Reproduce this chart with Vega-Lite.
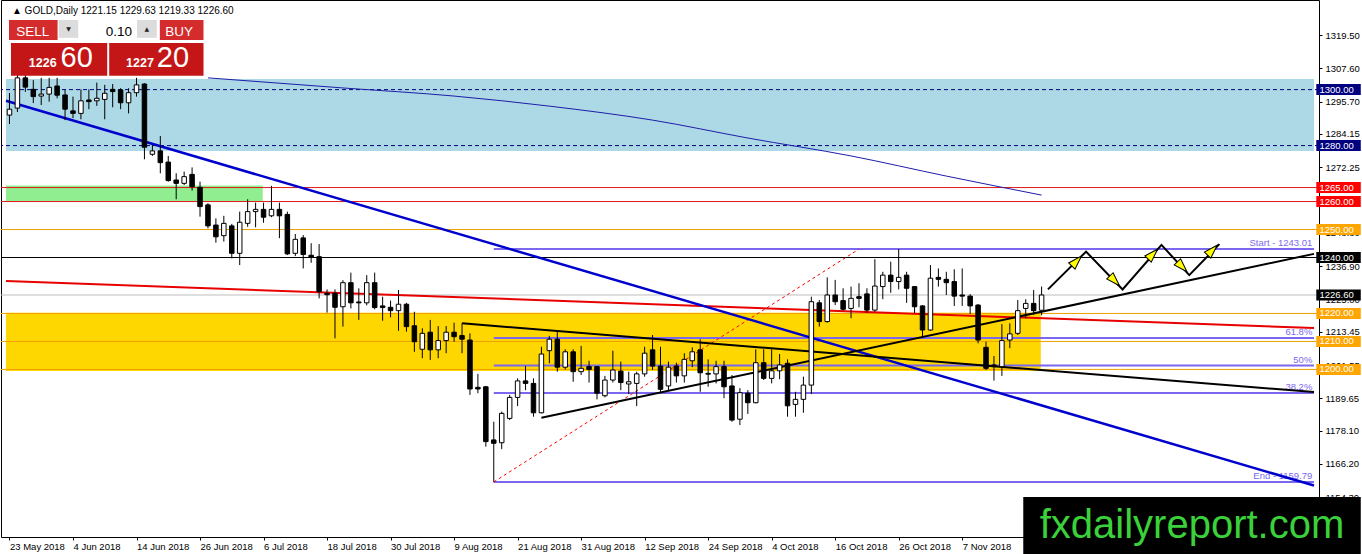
{
"$schema": "https://vega.github.io/schema/vega-lite/v6.json",
"width": 1318, "height": 537, "padding": 0, "autosize": {"type": "pad"},
"background": "#ffffff",
"config": {"view": {"stroke": "#000000", "strokeWidth": 1}, "axis": {"grid": false, "labelOverlap": false, "labelSeparation": 0, "labelBound": false}, "axisY": {"labelOverlap": false}, "axisRight": {"labelOverlap": false}, "axisQuantitative": {"labelOverlap": false}},
"datasets": {
"candles": [
{"i":0,"o":1290.9,"h":1298.8,"l":1287.7,"c":1293.0},
{"i":1,"o":1293.4,"h":1307.0,"l":1292.0,"c":1304.2},
{"i":2,"o":1304.2,"h":1306.3,"l":1299.2,"c":1300.9},
{"i":3,"o":1300.1,"h":1303.4,"l":1295.2,"c":1297.5},
{"i":4,"o":1297.7,"h":1304.2,"l":1294.5,"c":1298.4},
{"i":5,"o":1298.4,"h":1304.2,"l":1295.7,"c":1300.8},
{"i":6,"o":1301.3,"h":1304.2,"l":1296.9,"c":1298.0},
{"i":7,"o":1298.1,"h":1299.9,"l":1289.1,"c":1293.0},
{"i":8,"o":1292.4,"h":1297.5,"l":1289.8,"c":1291.5},
{"i":9,"o":1291.5,"h":1300.1,"l":1289.4,"c":1296.0},
{"i":10,"o":1296.3,"h":1300.1,"l":1293.0,"c":1295.7},
{"i":11,"o":1296.0,"h":1302.5,"l":1294.2,"c":1296.9},
{"i":12,"o":1296.5,"h":1301.7,"l":1289.4,"c":1298.7},
{"i":13,"o":1300.1,"h":1302.0,"l":1293.7,"c":1299.3},
{"i":14,"o":1299.9,"h":1300.5,"l":1293.0,"c":1295.3},
{"i":15,"o":1295.3,"h":1300.5,"l":1291.5,"c":1298.9},
{"i":16,"o":1298.9,"h":1304.2,"l":1297.5,"c":1301.7},
{"i":17,"o":1302.0,"h":1302.3,"l":1275.1,"c":1279.4},
{"i":18,"o":1276.9,"h":1280.2,"l":1276.3,"c":1278.1},
{"i":19,"o":1278.1,"h":1283.4,"l":1270.1,"c":1273.9},
{"i":20,"o":1274.1,"h":1276.3,"l":1267.1,"c":1267.5},
{"i":21,"o":1267.7,"h":1270.1,"l":1260.8,"c":1266.5},
{"i":22,"o":1266.5,"h":1270.7,"l":1265.9,"c":1268.9},
{"i":23,"o":1269.7,"h":1272.2,"l":1263.9,"c":1265.3},
{"i":24,"o":1265.1,"h":1267.1,"l":1254.6,"c":1258.2},
{"i":25,"o":1258.8,"h":1259.4,"l":1250.4,"c":1251.3},
{"i":26,"o":1251.6,"h":1254.0,"l":1245.3,"c":1247.4},
{"i":27,"o":1247.8,"h":1254.9,"l":1245.7,"c":1252.2},
{"i":28,"o":1251.3,"h":1252.0,"l":1239.7,"c":1241.5},
{"i":29,"o":1241.5,"h":1256.4,"l":1237.3,"c":1252.6},
{"i":30,"o":1252.2,"h":1260.8,"l":1251.0,"c":1256.4},
{"i":31,"o":1256.4,"h":1259.6,"l":1250.8,"c":1257.2},
{"i":32,"o":1257.2,"h":1259.6,"l":1252.4,"c":1254.4},
{"i":33,"o":1254.9,"h":1265.6,"l":1254.4,"c":1257.2},
{"i":34,"o":1257.2,"h":1259.6,"l":1246.9,"c":1254.9},
{"i":35,"o":1255.4,"h":1256.4,"l":1240.9,"c":1241.3},
{"i":36,"o":1241.5,"h":1248.4,"l":1240.5,"c":1246.5},
{"i":37,"o":1247.0,"h":1248.0,"l":1236.1,"c":1241.1},
{"i":38,"o":1240.8,"h":1245.1,"l":1238.1,"c":1240.1},
{"i":39,"o":1240.3,"h":1244.8,"l":1225.4,"c":1227.8},
{"i":40,"o":1227.2,"h":1228.6,"l":1220.3,"c":1226.7},
{"i":41,"o":1227.2,"h":1228.6,"l":1211.1,"c":1222.2},
{"i":42,"o":1222.4,"h":1231.9,"l":1215.3,"c":1231.0},
{"i":43,"o":1231.0,"h":1234.6,"l":1221.8,"c":1223.8},
{"i":44,"o":1224.1,"h":1229.0,"l":1217.7,"c":1223.8},
{"i":45,"o":1223.8,"h":1233.7,"l":1222.9,"c":1231.0},
{"i":46,"o":1231.0,"h":1234.6,"l":1221.5,"c":1222.1},
{"i":47,"o":1222.7,"h":1226.0,"l":1217.4,"c":1222.1},
{"i":48,"o":1222.2,"h":1224.6,"l":1218.6,"c":1221.0},
{"i":49,"o":1221.0,"h":1228.4,"l":1213.8,"c":1223.3},
{"i":50,"o":1223.3,"h":1223.8,"l":1213.5,"c":1215.3},
{"i":51,"o":1215.6,"h":1220.6,"l":1206.3,"c":1209.9},
{"i":52,"o":1207.2,"h":1214.7,"l":1204.0,"c":1212.9},
{"i":53,"o":1213.3,"h":1217.7,"l":1203.4,"c":1207.0},
{"i":54,"o":1207.0,"h":1215.5,"l":1204.0,"c":1210.3},
{"i":55,"o":1210.3,"h":1215.5,"l":1205.8,"c":1213.3},
{"i":56,"o":1213.3,"h":1216.7,"l":1209.9,"c":1211.7},
{"i":57,"o":1212.1,"h":1216.5,"l":1205.8,"c":1210.8},
{"i":58,"o":1210.5,"h":1212.9,"l":1190.9,"c":1193.0},
{"i":59,"o":1193.6,"h":1198.4,"l":1191.5,"c":1193.0},
{"i":60,"o":1193.8,"h":1194.1,"l":1172.4,"c":1174.2},
{"i":61,"o":1174.8,"h":1181.3,"l":1159.79,"c":1173.6},
{"i":62,"o":1173.8,"h":1184.9,"l":1171.5,"c":1184.3},
{"i":63,"o":1182.5,"h":1190.9,"l":1181.9,"c":1190.0},
{"i":64,"o":1190.0,"h":1196.8,"l":1186.9,"c":1195.9},
{"i":65,"o":1195.9,"h":1201.2,"l":1192.6,"c":1195.0},
{"i":66,"o":1195.0,"h":1196.8,"l":1183.1,"c":1184.5},
{"i":67,"o":1184.5,"h":1208.1,"l":1184.3,"c":1205.5},
{"i":68,"o":1206.7,"h":1212.0,"l":1202.2,"c":1210.8},
{"i":69,"o":1210.8,"h":1213.5,"l":1199.2,"c":1200.8},
{"i":70,"o":1200.8,"h":1207.2,"l":1200.0,"c":1206.3},
{"i":71,"o":1206.3,"h":1207.2,"l":1195.6,"c":1199.2},
{"i":72,"o":1199.2,"h":1208.4,"l":1198.0,"c":1200.4},
{"i":73,"o":1201.0,"h":1203.1,"l":1195.3,"c":1200.0},
{"i":74,"o":1201.0,"h":1201.2,"l":1189.3,"c":1191.5},
{"i":75,"o":1190.6,"h":1197.7,"l":1190.0,"c":1196.2},
{"i":76,"o":1196.2,"h":1206.7,"l":1195.3,"c":1199.8},
{"i":77,"o":1199.4,"h":1202.8,"l":1192.6,"c":1195.3},
{"i":78,"o":1194.8,"h":1199.2,"l":1191.2,"c":1195.6},
{"i":79,"o":1195.0,"h":1199.2,"l":1186.9,"c":1198.4},
{"i":80,"o":1198.4,"h":1208.1,"l":1197.4,"c":1205.8},
{"i":81,"o":1207.0,"h":1212.3,"l":1199.8,"c":1201.2},
{"i":82,"o":1201.2,"h":1208.1,"l":1192.0,"c":1192.9},
{"i":83,"o":1194.1,"h":1202.8,"l":1192.6,"c":1200.8},
{"i":84,"o":1201.2,"h":1202.4,"l":1195.3,"c":1197.7},
{"i":85,"o":1197.7,"h":1205.8,"l":1195.3,"c":1203.6},
{"i":86,"o":1203.1,"h":1207.9,"l":1200.8,"c":1206.3},
{"i":87,"o":1207.0,"h":1210.8,"l":1192.0,"c":1198.8},
{"i":88,"o":1198.6,"h":1203.6,"l":1193.8,"c":1198.3},
{"i":89,"o":1198.4,"h":1203.1,"l":1195.0,"c":1201.0},
{"i":90,"o":1201.0,"h":1203.1,"l":1189.7,"c":1193.8},
{"i":91,"o":1194.1,"h":1198.0,"l":1181.3,"c":1181.9},
{"i":92,"o":1182.2,"h":1193.3,"l":1180.1,"c":1191.7},
{"i":93,"o":1191.5,"h":1192.6,"l":1184.1,"c":1188.1},
{"i":94,"o":1188.1,"h":1207.2,"l":1187.9,"c":1202.4},
{"i":95,"o":1202.4,"h":1207.2,"l":1196.2,"c":1196.8},
{"i":96,"o":1196.8,"h":1207.2,"l":1195.0,"c":1199.5},
{"i":97,"o":1199.5,"h":1205.5,"l":1196.5,"c":1201.6},
{"i":98,"o":1202.2,"h":1203.6,"l":1183.1,"c":1187.0},
{"i":99,"o":1187.5,"h":1192.0,"l":1183.1,"c":1189.3},
{"i":100,"o":1189.3,"h":1197.4,"l":1184.5,"c":1194.4},
{"i":101,"o":1194.4,"h":1226.0,"l":1191.2,"c":1224.2},
{"i":102,"o":1223.8,"h":1224.8,"l":1215.3,"c":1217.1},
{"i":103,"o":1217.1,"h":1232.9,"l":1216.7,"c":1226.6},
{"i":104,"o":1226.6,"h":1232.0,"l":1223.0,"c":1224.2},
{"i":105,"o":1224.6,"h":1229.0,"l":1221.0,"c":1221.5},
{"i":106,"o":1221.8,"h":1229.6,"l":1218.3,"c":1225.4},
{"i":107,"o":1226.0,"h":1230.8,"l":1222.2,"c":1225.4},
{"i":108,"o":1227.0,"h":1229.0,"l":1220.3,"c":1221.2},
{"i":109,"o":1221.2,"h":1239.4,"l":1220.6,"c":1229.8},
{"i":110,"o":1229.6,"h":1234.9,"l":1225.1,"c":1233.7},
{"i":111,"o":1233.7,"h":1238.5,"l":1227.4,"c":1231.4},
{"i":112,"o":1231.4,"h":1243.01,"l":1228.6,"c":1232.9},
{"i":113,"o":1233.7,"h":1234.9,"l":1223.8,"c":1229.0},
{"i":114,"o":1229.6,"h":1229.8,"l":1220.1,"c":1222.4},
{"i":115,"o":1222.7,"h":1223.0,"l":1211.7,"c":1214.1},
{"i":116,"o":1214.1,"h":1237.3,"l":1213.8,"c":1232.6},
{"i":117,"o":1232.9,"h":1236.1,"l":1229.6,"c":1232.2},
{"i":118,"o":1232.2,"h":1234.9,"l":1226.6,"c":1231.0},
{"i":119,"o":1231.4,"h":1235.8,"l":1222.7,"c":1226.2},
{"i":120,"o":1226.6,"h":1236.1,"l":1222.7,"c":1226.2},
{"i":121,"o":1226.2,"h":1226.9,"l":1219.8,"c":1222.7},
{"i":122,"o":1223.0,"h":1223.4,"l":1209.3,"c":1210.5},
{"i":123,"o":1207.9,"h":1209.9,"l":1199.8,"c":1200.4},
{"i":124,"o":1201.6,"h":1204.8,"l":1196.0,"c":1201.0},
{"i":125,"o":1201.0,"h":1216.2,"l":1197.7,"c":1210.3},
{"i":126,"o":1210.5,"h":1216.5,"l":1207.6,"c":1212.7},
{"i":127,"o":1212.9,"h":1224.8,"l":1212.3,"c":1221.0},
{"i":128,"o":1221.8,"h":1225.1,"l":1218.3,"c":1223.6},
{"i":129,"o":1223.6,"h":1228.4,"l":1219.5,"c":1221.0},
{"i":130,"o":1221.15,"h":1229.63,"l":1219.33,"c":1226.60}
]
},
"layer": [
{
"data": {"values": [
{"z":"blue","a":-0.4375,"b":164.31,"lo":1278.1,"hi":1303.8},
{"z":"green","a":-0.4375,"b":31.9,"lo":1259.9,"hi":1265.7},
{"z":"gold","a":-0.4375,"b":129.9,"lo":1199.4,"hi":1220.3}
]},
"mark": {"type": "rect"},
"encoding": {
"x": {"field": "a", "type": "quantitative", "scale": {"domain": [-0.4375, 164.31], "nice": false, "zero": false},
"axis": {"orient": "bottom", "title": null, "domain": false, "grid": false, "values": [0,8,16,24,32,40,48,56,64,72,80,88,96,104,112,120],
"labelExpr": "['23 May 2018','4 Jun 2018','14 Jun 2018','26 Jun 2018','6 Jul 2018','18 Jul 2018','30 Jul 2018','9 Aug 2018','21 Aug 2018','31 Aug 2018','12 Sep 2018','24 Sep 2018','4 Oct 2018','16 Oct 2018','26 Oct 2018','7 Nov 2018'][round(datum.value/8)]",
"labelAlign": "left", "labelPadding": 1, "tickSize": 3, "tickColor": "#000000", "labelColor": "#000000", "labelFont": "Liberation Sans", "labelFontSize": 9.5, "labelOverlap": false, "labelFlush": false}},
"x2": {"field": "b"},
"y": {"field": "lo", "type": "quantitative", "scale": {"domain": [1140.11, 1332.03], "nice": false, "zero": false},
"axis": {"orient": "right", "title": null, "domain": false, "grid": false, "values": [1319.5,1307.6,1295.7,1284.15,1272.25,1248.8,1236.9,1225.0,1213.45,1201.55,1189.65,1178.1,1166.2,1154.3],
"format": ".2f", "tickSize": 3, "tickColor": "#000000", "labelColor": "#000000", "labelFont": "Liberation Sans", "labelFontSize": 9.5, "labelPadding": 3, "labelOverlap": false, "labelFlush": false, "labelBound": false}},
"y2": {"field": "hi"},
"color": {"condition": [{"test": "datum.z === 'blue'", "value": "#ADD8E6"}, {"test": "datum.z === 'green'", "value": "#90EE90"}], "value": "#FFD700"}
}
},
{
"data": {"values": [{"p":1300},{"p":1280}]},
"mark": {"type": "rule", "color": "#000080", "strokeWidth": 1, "strokeDash": [4, 3]},
"encoding": {"y": {"field": "p", "type": "quantitative", "scale": {"domain": [1140.11, 1332.03], "nice": false, "zero": false}}}
},
{
"data": {"values": [{"p":1265},{"p":1260}]},
"mark": {"type": "rule", "color": "#E01818", "strokeWidth": 1},
"encoding": {"y": {"field": "p", "type": "quantitative", "scale": {"domain": [1140.11, 1332.03], "nice": false, "zero": false}}}
},
{
"data": {"values": [{"p":1250},{"p":1220},{"p":1210},{"p":1200}]},
"mark": {"type": "rule", "color": "#F0A000", "strokeWidth": 1},
"encoding": {"y": {"field": "p", "type": "quantitative", "scale": {"domain": [1140.11, 1332.03], "nice": false, "zero": false}}}
},
{
"data": {"values": [{"p":1240}]},
"mark": {"type": "rule", "color": "#000000", "strokeWidth": 1},
"encoding": {"y": {"field": "p", "type": "quantitative", "scale": {"domain": [1140.11, 1332.03], "nice": false, "zero": false}}}
},
{
"data": {"values": [{"p":1226.6}]},
"mark": {"type": "rule", "color": "#BDBDBD", "strokeWidth": 1},
"encoding": {"y": {"field": "p", "type": "quantitative", "scale": {"domain": [1140.11, 1332.03], "nice": false, "zero": false}}}
},
{
"data": {"values": [{"p":1243.01},{"p":1211.22},{"p":1201.40},{"p":1191.58},{"p":1159.79}]},
"mark": {"type": "rule", "color": "#7B68EE", "strokeWidth": 2},
"encoding": {
"x": {"datum": 61, "type": "quantitative", "scale": {"domain": [-0.4375, 164.31], "nice": false, "zero": false}},
"x2": {"datum": 164.31},
"y": {"field": "p", "type": "quantitative", "scale": {"domain": [1140.11, 1332.03], "nice": false, "zero": false}}}
},
{
"data": {"values": [{"p":1243.01,"t":"Start - 1243.01"},{"p":1211.22,"t":"61.8%"},{"p":1201.40,"t":"50%"},{"p":1191.58,"t":"38.2%"},{"p":1159.79,"t":"End - 1159.79"}]},
"mark": {"type": "text", "align": "right", "baseline": "bottom", "dy": -1, "font": "Liberation Sans", "fontSize": 9.5, "color": "#7B68EE"},
"encoding": {
"x": {"datum": 164.1, "type": "quantitative", "scale": {"domain": [-0.4375, 164.31], "nice": false, "zero": false}},
"y": {"field": "p", "type": "quantitative", "scale": {"domain": [1140.11, 1332.03], "nice": false, "zero": false}},
"text": {"field": "t"}}
},
{
"data": {"values": [{"i":61,"p":1159.79},{"i":107,"p":1243.01}]},
"mark": {"type": "line", "color": "#FF0000", "strokeWidth": 1, "strokeDash": [3, 3]},
"encoding": {
"x": {"field": "i", "type": "quantitative", "scale": {"domain": [-0.4375, 164.31], "nice": false, "zero": false}},
"y": {"field": "p", "type": "quantitative", "scale": {"domain": [1140.11, 1332.03], "nice": false, "zero": false}}}
},
{
"data": {"values": [{"i":-0.4375,"p":1231.6},{"i":164.31,"p":1214.8}]},
"mark": {"type": "line", "color": "#E80000", "strokeWidth": 2},
"encoding": {
"x": {"field": "i", "type": "quantitative", "scale": {"domain": [-0.4375, 164.31], "nice": false, "zero": false}},
"y": {"field": "p", "type": "quantitative", "scale": {"domain": [1140.11, 1332.03], "nice": false, "zero": false}}}
},
{
"data": {"values": [{"i":25,"p":1304.2},{"i":42,"p":1300.6},{"i":56,"p":1297.7},{"i":68,"p":1294.1},{"i":81,"p":1289.1},{"i":93,"p":1282.7},{"i":106,"p":1276.3},{"i":118,"p":1269.1},{"i":130,"p":1262.3}]},
"mark": {"type": "line", "color": "#1E1EA8", "strokeWidth": 1, "interpolate": "monotone"},
"encoding": {
"x": {"field": "i", "type": "quantitative", "scale": {"domain": [-0.4375, 164.31], "nice": false, "zero": false}},
"y": {"field": "p", "type": "quantitative", "scale": {"domain": [1140.11, 1332.03], "nice": false, "zero": false}}}
},
{
"data": {"values": [{"i":-0.4375,"p":1296.0},{"i":164.31,"p":1158.5}]},
"mark": {"type": "line", "color": "#0000CD", "strokeWidth": 2.5},
"encoding": {
"x": {"field": "i", "type": "quantitative", "scale": {"domain": [-0.4375, 164.31], "nice": false, "zero": false}},
"y": {"field": "p", "type": "quantitative", "scale": {"domain": [1140.11, 1332.03], "nice": false, "zero": false}}}
},
{
"data": {"values": [{"i":57,"p":1216.5},{"i":164.31,"p":1191.9}]},
"mark": {"type": "line", "color": "#000000", "strokeWidth": 2},
"encoding": {
"x": {"field": "i", "type": "quantitative", "scale": {"domain": [-0.4375, 164.31], "nice": false, "zero": false}},
"y": {"field": "p", "type": "quantitative", "scale": {"domain": [1140.11, 1332.03], "nice": false, "zero": false}}}
},
{
"data": {"values": [{"i":67,"p":1182.7},{"i":164.31,"p":1241.3}]},
"mark": {"type": "line", "color": "#000000", "strokeWidth": 2},
"encoding": {
"x": {"field": "i", "type": "quantitative", "scale": {"domain": [-0.4375, 164.31], "nice": false, "zero": false}},
"y": {"field": "p", "type": "quantitative", "scale": {"domain": [1140.11, 1332.03], "nice": false, "zero": false}}}
},
{
"data": {"name": "candles"},
"mark": {"type": "rule", "color": "#000000", "strokeWidth": 1},
"encoding": {
"x": {"field": "i", "type": "quantitative", "scale": {"domain": [-0.4375, 164.31], "nice": false, "zero": false}},
"y": {"field": "l", "type": "quantitative", "scale": {"domain": [1140.11, 1332.03], "nice": false, "zero": false}},
"y2": {"field": "h"}}
},
{
"data": {"name": "candles"},
"mark": {"type": "bar", "size": 4.5, "stroke": "#000000", "strokeWidth": 1},
"encoding": {
"x": {"field": "i", "type": "quantitative", "scale": {"domain": [-0.4375, 164.31], "nice": false, "zero": false}},
"y": {"field": "o", "type": "quantitative", "scale": {"domain": [1140.11, 1332.03], "nice": false, "zero": false}},
"y2": {"field": "c"},
"fill": {"condition": {"test": "datum.c >= datum.o", "value": "#FFFFFF"}, "value": "#000000"}}
},
{
"data": {"values": [{"i":130.8,"p":1228.6},{"i":135.6,"p":1242.1},{"i":140.2,"p":1228.6},{"i":145.1,"p":1244.5},{"i":148.6,"p":1233.7},{"i":152.4,"p":1244.8}]},
"mark": {"type": "line", "color": "#000000", "strokeWidth": 2},
"encoding": {
"x": {"field": "i", "type": "quantitative", "scale": {"domain": [-0.4375, 164.31], "nice": false, "zero": false}},
"y": {"field": "p", "type": "quantitative", "scale": {"domain": [1140.11, 1332.03], "nice": false, "zero": false}}}
},
{
"data": {"values": [{"i":134.3,"p":1238.4},{"i":143.9,"p":1240.9},{"i":151.4,"p":1242.3}]},
"mark": {"type": "point", "shape": "M0,-1L0.55,0.7L-0.55,0.7Z", "filled": true, "fill": "#FFFF00", "stroke": "#000000", "strokeWidth": 1, "size": 260, "angle": 44, "opacity": 1},
"encoding": {
"x": {"field": "i", "type": "quantitative", "scale": {"domain": [-0.4375, 164.31], "nice": false, "zero": false}},
"y": {"field": "p", "type": "quantitative", "scale": {"domain": [1140.11, 1332.03], "nice": false, "zero": false}}}
},
{
"data": {"values": [{"i":139.1,"p":1232.0},{"i":147.6,"p":1237.0}]},
"mark": {"type": "point", "shape": "M0,-1L0.55,0.7L-0.55,0.7Z", "filled": true, "fill": "#FFFF00", "stroke": "#000000", "strokeWidth": 1, "size": 260, "angle": 136, "opacity": 1},
"encoding": {
"x": {"field": "i", "type": "quantitative", "scale": {"domain": [-0.4375, 164.31], "nice": false, "zero": false}},
"y": {"field": "p", "type": "quantitative", "scale": {"domain": [1140.11, 1332.03], "nice": false, "zero": false}}}
},
{
"data": {"values": [{"p":1300,"t":"1300.00","k":"navy"},{"p":1280,"t":"1280.00","k":"navy"},{"p":1265,"t":"1265.00","k":"red"},{"p":1260,"t":"1260.00","k":"red"},{"p":1250,"t":"1250.00","k":"orange"},{"p":1240,"t":"1240.00","k":"black"},{"p":1226.6,"t":"1226.60","k":"black"},{"p":1220,"t":"1220.00","k":"orange"},{"p":1210,"t":"1210.00","k":"orange"},{"p":1200,"t":"1200.00","k":"orange"}]},
"mark": {"type": "rect", "yOffset": -5.5, "y2Offset": 5.5},
"encoding": {
"x": {"datum": 164.6, "type": "quantitative", "scale": {"domain": [-0.4375, 164.31], "nice": false, "zero": false}},
"x2": {"datum": 170.2},
"y": {"field": "p", "type": "quantitative", "scale": {"domain": [1140.11, 1332.03], "nice": false, "zero": false}},
"y2": {"field": "p"},
"color": {"condition": [{"test": "datum.k === 'navy'", "value": "#000080"}, {"test": "datum.k === 'red'", "value": "#FF0000"}, {"test": "datum.k === 'orange'", "value": "#FFA500"}], "value": "#000000"}}
},
{
"data": {"values": [{"p":1300,"t":"1300.00"},{"p":1280,"t":"1280.00"},{"p":1265,"t":"1265.00"},{"p":1260,"t":"1260.00"},{"p":1250,"t":"1250.00"},{"p":1240,"t":"1240.00"},{"p":1226.6,"t":"1226.60"},{"p":1220,"t":"1220.00"},{"p":1210,"t":"1210.00"},{"p":1200,"t":"1200.00"}]},
"mark": {"type": "text", "align": "left", "baseline": "middle", "font": "Liberation Sans", "fontSize": 9.5, "color": "#FFFFFF"},
"encoding": {
"x": {"datum": 165.0, "type": "quantitative", "scale": {"domain": [-0.4375, 164.31], "nice": false, "zero": false}},
"y": {"field": "p", "type": "quantitative", "scale": {"domain": [1140.11, 1332.03], "nice": false, "zero": false}},
"text": {"field": "t"}}
},
{
"data": {"values": [
{"k":"btn","a":-0.06,"b":6.06,"lo":1317.7,"hi":1324.9},
{"k":"gray","a":6.19,"b":8.69,"lo":1318.5,"hi":1324.9},
{"k":"white","a":8.69,"b":16.06,"lo":1318.5,"hi":1324.9},
{"k":"gray","a":16.06,"b":18.56,"lo":1318.5,"hi":1324.9},
{"k":"btn","a":18.94,"b":24.44,"lo":1317.7,"hi":1324.9},
{"k":"big","a":0.19,"b":12.31,"lo":1305.0,"hi":1316.7},
{"k":"big","a":12.56,"b":24.44,"lo":1305.0,"hi":1316.7}
]},
"mark": {"type": "rect"},
"encoding": {
"x": {"field": "a", "type": "quantitative", "scale": {"domain": [-0.4375, 164.31], "nice": false, "zero": false}},
"x2": {"field": "b"},
"y": {"field": "lo", "type": "quantitative", "scale": {"domain": [1140.11, 1332.03], "nice": false, "zero": false}},
"y2": {"field": "hi"},
"color": {"condition": [{"test": "datum.k === 'btn'", "value": "#D42C2C"}, {"test": "datum.k === 'big'", "value": "#C41616"}, {"test": "datum.k === 'gray'", "value": "#DCDCDC"}], "value": "#FFFFFF"}}
},
{
"data": {"values": [{"i":2.94,"p":1319.2,"t":"SELL"},{"i":21.38,"p":1319.2,"t":"BUY"}]},
"mark": {"type": "text", "align": "center", "baseline": "alphabetic", "font": "Liberation Sans", "fontSize": 13.5, "color": "#FFFFFF"},
"encoding": {
"x": {"field": "i", "type": "quantitative", "scale": {"domain": [-0.4375, 164.31], "nice": false, "zero": false}},
"y": {"field": "p", "type": "quantitative", "scale": {"domain": [1140.11, 1332.03], "nice": false, "zero": false}},
"text": {"field": "t"}}
},
{
"data": {"values": [{"i":15.44,"p":1319.2,"t":"0.10"}]},
"mark": {"type": "text", "align": "right", "baseline": "alphabetic", "font": "Liberation Sans", "fontSize": 13.5, "color": "#000000"},
"encoding": {
"x": {"field": "i", "type": "quantitative", "scale": {"domain": [-0.4375, 164.31], "nice": false, "zero": false}},
"y": {"field": "p", "type": "quantitative", "scale": {"domain": [1140.11, 1332.03], "nice": false, "zero": false}},
"text": {"field": "t"}}
},
{
"data": {"values": [{"i":7.44,"p":1321.6,"t":"▼"},{"i":17.31,"p":1321.6,"t":"▲"}]},
"mark": {"type": "text", "align": "center", "baseline": "middle", "font": "DejaVu Sans", "fontSize": 6, "color": "#222222"},
"encoding": {
"x": {"field": "i", "type": "quantitative", "scale": {"domain": [-0.4375, 164.31], "nice": false, "zero": false}},
"y": {"field": "p", "type": "quantitative", "scale": {"domain": [1140.11, 1332.03], "nice": false, "zero": false}},
"text": {"field": "t"}}
},
{
"data": {"values": [{"i":2.44,"p":1308.1,"t":"1226"},{"i":14.69,"p":1308.1,"t":"1227"}]},
"mark": {"type": "text", "align": "left", "baseline": "alphabetic", "font": "Liberation Sans", "fontSize": 12.5, "fontWeight": "bold", "color": "#FFFFFF"},
"encoding": {
"x": {"field": "i", "type": "quantitative", "scale": {"domain": [-0.4375, 164.31], "nice": false, "zero": false}},
"y": {"field": "p", "type": "quantitative", "scale": {"domain": [1140.11, 1332.03], "nice": false, "zero": false}},
"text": {"field": "t"}}
},
{
"data": {"values": [{"i":6.44,"p":1308.1,"t":"60"},{"i":18.56,"p":1308.1,"t":"20"}]},
"mark": {"type": "text", "align": "left", "baseline": "alphabetic", "font": "Liberation Sans", "fontSize": 29, "color": "#FFFFFF"},
"encoding": {
"x": {"field": "i", "type": "quantitative", "scale": {"domain": [-0.4375, 164.31], "nice": false, "zero": false}},
"y": {"field": "p", "type": "quantitative", "scale": {"domain": [1140.11, 1332.03], "nice": false, "zero": false}},
"text": {"field": "t"}}
},
{
"data": {"values": [{"i":0.31,"p":1327.0,"t":"▲ GOLD,Daily  1221.15 1229.63 1219.33 1226.60"}]},
"mark": {"type": "text", "align": "left", "baseline": "alphabetic", "font": "Liberation Sans", "fontSize": 10, "color": "#000000"},
"encoding": {
"x": {"field": "i", "type": "quantitative", "scale": {"domain": [-0.4375, 164.31], "nice": false, "zero": false}},
"y": {"field": "p", "type": "quantitative", "scale": {"domain": [1140.11, 1332.03], "nice": false, "zero": false}},
"text": {"field": "t"}}
},
{
"data": {"values": [{"a":127.69,"b":170.2,"lo":1133.5,"hi":1154.4}]},
"mark": {"type": "rect", "color": "#000000"},
"encoding": {
"x": {"field": "a", "type": "quantitative", "scale": {"domain": [-0.4375, 164.31], "nice": false, "zero": false}},
"x2": {"field": "b"},
"y": {"field": "lo", "type": "quantitative", "scale": {"domain": [1140.11, 1332.03], "nice": false, "zero": false}},
"y2": {"field": "hi"}}
},
{
"data": {"values": [{"i":148.94,"p":1139.75,"t":"fxdailyreport.com"}]},
"mark": {"type": "text", "align": "center", "baseline": "alphabetic", "font": "Liberation Sans", "fontSize": 40, "color": "#3AD13A"},
"encoding": {
"x": {"field": "i", "type": "quantitative", "scale": {"domain": [-0.4375, 164.31], "nice": false, "zero": false}},
"y": {"field": "p", "type": "quantitative", "scale": {"domain": [1140.11, 1332.03], "nice": false, "zero": false}},
"text": {"field": "t"}}
}
]
}
